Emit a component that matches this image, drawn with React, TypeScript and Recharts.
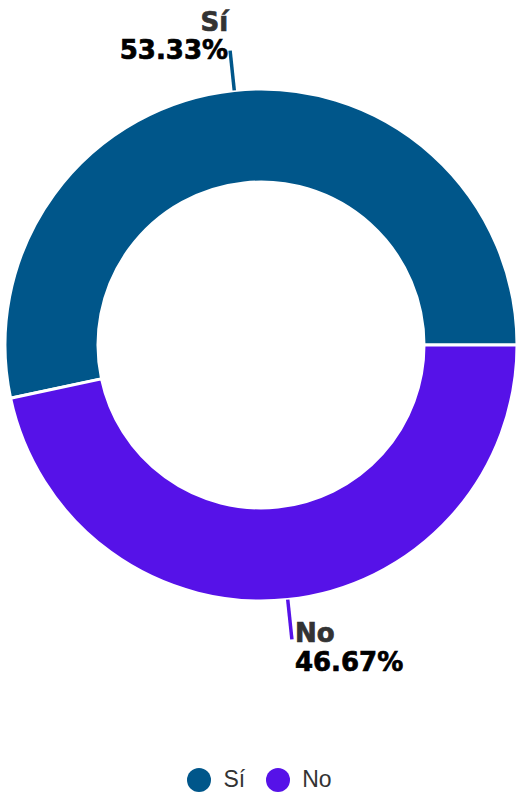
import React from "react";
import { Legend, Pie, PieChart, Cell } from "recharts";

const categories = ["Sí", "No"];
const shares = [53.33, 46.67];
const colors = ["#00568A", "#5612E8"];

const data = categories.map((name, i) => ({ name, value: shares[i] }));

const RADIAN = Math.PI / 180;

function renderLabel(props: any) {
  const { cx, cy, midAngle, outerRadius, index, fill } = props;
  const cos = Math.cos(-midAngle * RADIAN);
  const sin = Math.sin(-midAngle * RADIAN);
  const sx = cx + outerRadius * cos;
  const sy = cy + outerRadius * sin;
  const ex = cx + (outerRadius + 40) * cos;
  const ey = cy + (outerRadius + 40) * sin;
  const top = sin < 0;
  const anchor = top ? "end" : "start";
  const tx = top ? ex - 2 : ex + 3;
  const y1 = top ? ey - 20 : ey + 3;
  const y2 = top ? ey + 8 : ey + 32;
  return (
    <g>
      <line x1={sx} y1={sy} x2={ex} y2={ey} stroke={fill} strokeWidth={3.5} />
      <text
        x={tx}
        y={y1}
        textAnchor={anchor}
        fill="#333333"
        stroke="#333333"
        strokeWidth={0.7}
        fontFamily="DejaVu Sans"
        fontWeight="bold"
        fontSize={26}
      >
        {data[index].name}
      </text>
      <text
        x={tx}
        y={y2}
        textAnchor={anchor}
        fill="#000000"
        stroke="#000000"
        strokeWidth={0.7}
        fontFamily="DejaVu Sans"
        fontWeight="bold"
        fontSize={26}
      >
        {`${shares[index].toFixed(2)}%`}
      </text>
    </g>
  );
}

function LegendContent() {
  return (
    <div
      style={{
        display: "flex",
        justifyContent: "center",
        alignItems: "center",
        width: 519,
        fontFamily: "Liberation Sans, Arial, sans-serif",
        fontSize: 23,
        color: "#333333",
      }}
    >
      {categories.map((c, i) => (
        <div key={c} style={{ display: "flex", alignItems: "center", marginRight: i === 0 ? 21 : 0 }}>
          <span
            style={{
              display: "inline-block",
              width: 24,
              height: 24,
              borderRadius: 12,
              background: colors[i],
              marginRight: 12,
            }}
          />
          <span>{c}</span>
        </div>
      ))}
    </div>
  );
}

export default function App() {
  return (
    <div style={{ position: "absolute", left: 0, top: 0, width: 519, height: 796, background: "#fff" }}>
      <PieChart width={519} height={796} margin={{ top: 0, right: 0, bottom: 0, left: 0 }}>
        <Pie
          data={data}
          dataKey="value"
          nameKey="name"
          cx={261}
          cy={345}
          innerRadius={163}
          outerRadius={256}
          startAngle={0}
          endAngle={360}
          stroke="#ffffff"
          strokeWidth={3}
          label={renderLabel}
          labelLine={false}
          isAnimationActive={false}
        >
          {data.map((d, i) => (
            <Cell key={d.name} fill={colors[i]} />
          ))}
        </Pie>
        <Legend content={<LegendContent />} wrapperStyle={{ position: "absolute", top: 766, left: 0, width: 519 }} />
      </PieChart>
    </div>
  );
}
